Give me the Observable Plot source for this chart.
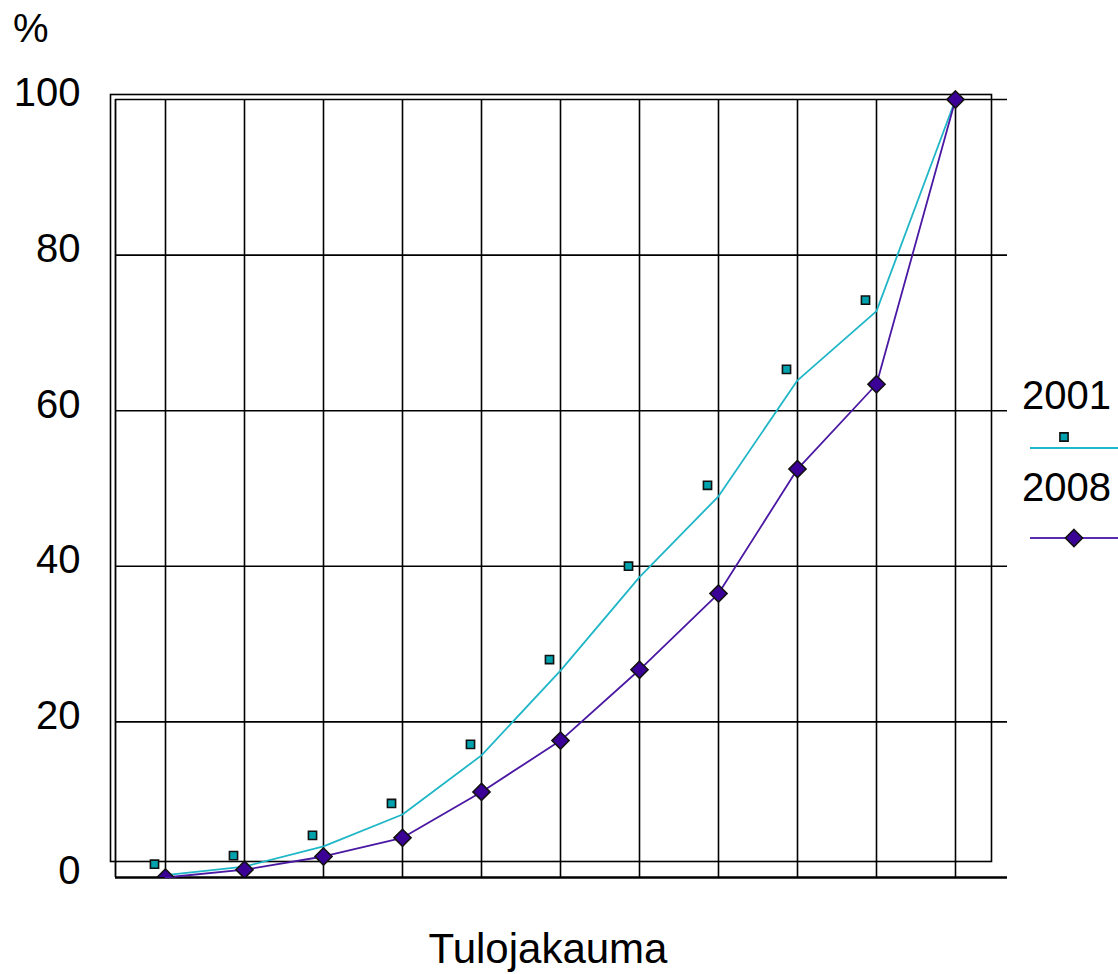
<!DOCTYPE html>
<html>
<head>
<meta charset="utf-8">
<script src="https://cdn.jsdelivr.net/npm/d3@7"></script>
<script src="https://cdn.jsdelivr.net/npm/@observablehq/plot@0.6"></script>
<style>
  html, body { margin: 0; padding: 0; background: #fff; }
  #chart { position: relative; width: 1118px; height: 974px; }
  svg { font-family: "Liberation Sans", Arial, sans-serif; }
</style>
</head>
<body>
<div id="chart"></div>
<script>
// Deciles (income distribution groups), index 0..10
const groups = [0, 1, 2, 3, 4, 5, 6, 7, 8, 9, 10];
// Cumulative share, %
const values2001 = [0.3, 1.4, 4.0, 8.1, 15.7, 26.6, 38.6, 49.0, 63.9, 72.8, 100];
const values2008 = [0, 1.0, 2.7, 5.1, 11.0, 17.6, 26.7, 36.5, 52.5, 63.4, 100];
const yTicks = [0, 20, 40, 60, 80, 100];
const seriesNames = ["2001", "2008"];
const xTitle = "Tulojakauma";
const yTitle = "%";

const c2001Line = "#1fb6c7";
const c2001Fill = "#00a3ad";
const c2008Line = "#4a18a2";
const c2008Fill = "#3b0095";

const d2001 = groups.map((g, i) => ({g, v: values2001[i]}));
const d2008 = groups.map((g, i) => ({g, v: values2008[i]}));

const W = 1118, H = 974;
const left = 115, right = 1007, y0px = 877, y100px = 99;
const pxPerUnit = (y0px - y100px) / 100;
const yMax = 102;
const marginTop = y0px - yMax * pxPerUnit;
const step = 79, firstX = 165;
const xDomain = [(left - firstX) / step, (right - firstX) / step];

const plot = Plot.plot({
  width: W,
  height: H,
  marginLeft: left,
  marginRight: W - right,
  marginTop: marginTop,
  marginBottom: H - y0px,
  style: {fontFamily: "'Liberation Sans', Arial, sans-serif", background: "#fff", color: "#000"},
  x: {domain: xDomain, axis: null},
  y: {domain: [0, yMax], axis: null},
  marks: [
    // back wall
    Plot.frame({stroke: "#000", strokeWidth: 1.6, insetLeft: -5, insetTop: 94 - marginTop, insetRight: 16, insetBottom: 16}),
    Plot.ruleY(yTicks.slice(1), {stroke: "#000", strokeWidth: 1.6}),
    Plot.ruleX(groups, {y1: 0, y2: 100, stroke: "#000", strokeWidth: 1.6}),
    Plot.ruleX([xDomain[0]], {y1: 0, y2: 100, stroke: "#000", strokeWidth: 1.8}),
    Plot.ruleY([0], {stroke: "#000", strokeWidth: 2.4}),
    Plot.axisY({ticks: yTicks, tickSize: 0, tickPadding: 35, fontSize: 40, dy: -6, label: null}),
    Plot.line(d2001, {x: "g", y: "v", stroke: c2001Line, strokeWidth: 1.8}),
    Plot.line(d2008, {x: "g", y: "v", stroke: c2008Line, strokeWidth: 1.8}),
    Plot.dot(d2001.slice(0, 10), {x: "g", y: "v", symbol: "square", r: 4.6, fill: c2001Fill, stroke: "#111", strokeWidth: 1.6, dx: -11, dy: -11}),
    Plot.dot(d2008, {x: "g", y: "v", symbol: "diamond2", r: 7.7, fill: c2008Fill, stroke: "#111", strokeWidth: 1.6, clip: true})
  ]
});

const svg = d3.select(plot);
// y title
svg.append("text").attr("x", 13).attr("y", 42).attr("text-anchor", "start").attr("font-size", 40).attr("fill", "#000").text(yTitle);
// x title
svg.append("text").attr("x", 548).attr("y", 963).attr("text-anchor", "middle").attr("font-size", 42).attr("fill", "#000").text(xTitle);

// legend
const lg = svg.append("g").attr("text-anchor", "start");
lg.append("text").attr("x", 1022).attr("y", 409).attr("font-size", 40).attr("fill", "#000").text(seriesNames[0]);
lg.append("line").attr("x1", 1030).attr("x2", 1118).attr("y1", 448).attr("y2", 448).attr("stroke", c2001Line).attr("stroke-width", 1.8);
lg.append("path").attr("d", d3.symbol(d3.symbolSquare, Math.PI * 4.6 * 4.6)()).attr("transform", "translate(1064,437)")
  .attr("fill", c2001Fill).attr("stroke", "#111").attr("stroke-width", 1.6);
lg.append("text").attr("x", 1022).attr("y", 501).attr("font-size", 40).attr("fill", "#000").text(seriesNames[1]);
lg.append("line").attr("x1", 1030).attr("x2", 1118).attr("y1", 538).attr("y2", 538).attr("stroke", "#5a2ab0").attr("stroke-width", 1.8);
lg.append("path").attr("d", d3.symbol(d3.symbolDiamond2, Math.PI * 7.7 * 7.7)()).attr("transform", "translate(1074,538)")
  .attr("fill", c2008Fill).attr("stroke", "#111").attr("stroke-width", 1.6);

document.getElementById("chart").appendChild(plot);
</script>
</body>
</html>
